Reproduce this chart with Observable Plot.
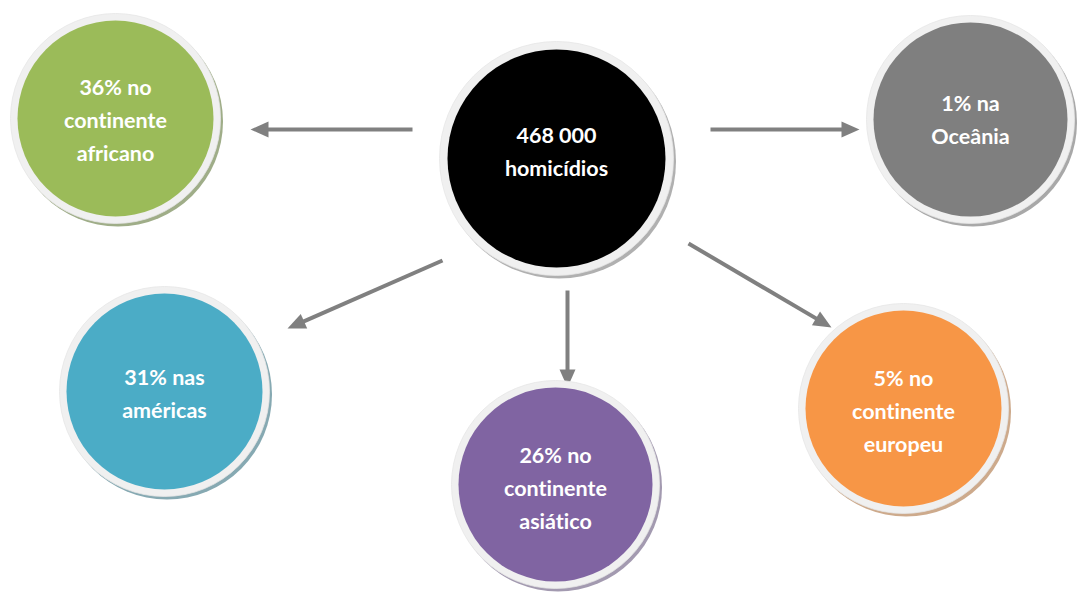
<!DOCTYPE html>
<html>
<head>
<meta charset="utf-8">
<script src="https://cdn.jsdelivr.net/npm/d3@7"></script>
<script src="https://cdn.jsdelivr.net/npm/@observablehq/plot@0.6"></script>
<style>
  html, body { margin: 0; padding: 0; background: #ffffff; }
  #chart svg { display: block; font-variant-ligatures: none; }
</style>
</head>
<body>
<div id="chart"></div>
<script>
// ---- data ----
const totalValue = "468 000";
const totalLabel = "homicídios";
const regions = ["africa", "americas", "asia", "europa", "oceania"];
const shares = [36, 31, 26, 5, 1];
const labels = [
  "36% no\ncontinente\nafricano",
  "31% nas\namericas".replace("americas", "américas"),
  "26% no\ncontinente\nasiático",
  "5% no\ncontinente\neuropeu",
  "1% na\nOceânia"
];

// ---- styling / layout (not data) ----
const W = 1079, H = 597;
const fills = ["#9BBB59", "#4BACC6", "#8064A2", "#F79646", "#7F7F7F"];
const shadows = ["#9FAD88", "#86A9B2", "#A39AB0", "#CDAA8C", "#A8A8A8"];
const nodeX = [115, 164, 555, 903, 970];
const nodeY = [118, 391, 484, 408, 119];
const textY = [117, 390, 485, 408, 116];
const outerR = [105, 105, 104, 105, 104];
const innerR = [98, 98, 97, 98, 97];
const hub = {x: 556, y: 158, ty: 148, outer: 117, inner: 109};
// arrow start / tip per region
const arrowX1 = [412, 442, 567, 688, 710];
const arrowY1 = [129, 260, 290, 243, 129];
const arrowX2 = [250, 287, 567, 831, 859];
const arrowY2 = [129, 328, 387, 327, 129];

const nodes = regions.map((r, i) => ({
  region: r, share: shares[i], label: labels[i],
  x: nodeX[i], y: nodeY[i], ty: textY[i],
  outer: outerR[i], inner: innerR[i], fill: fills[i], shadow: shadows[i]
}));
const hubNode = {region: "total", label: totalValue + "\n" + totalLabel,
  x: hub.x, y: hub.y, ty: hub.ty, outer: hub.outer, inner: hub.inner, fill: "#000000", shadow: "#B0B0B0"};
const allNodes = [hubNode, ...nodes];

const arrows = regions.map((r, i) => ({region: r, x1: arrowX1[i], y1: arrowY1[i], x2: arrowX2[i], y2: arrowY2[i]}));
// arrowheads as filled triangles
const headLen = 18, headHalf = 8;
const heads = [];
const shafts = [];
arrows.forEach(a => {
  const dx = a.x2 - a.x1, dy = a.y2 - a.y1;
  const L = Math.hypot(dx, dy);
  const ux = dx / L, uy = dy / L;
  const bx = a.x2 - ux * headLen, by = a.y2 - uy * headLen;
  shafts.push({region: a.region, x1: a.x1, y1: a.y1, x2: bx + ux * 2, y2: by + uy * 2});
  heads.push({region: a.region, x: a.x2, y: a.y2});
  heads.push({region: a.region, x: bx - uy * headHalf, y: by + ux * headHalf});
  heads.push({region: a.region, x: bx + uy * headHalf, y: by - ux * headHalf});
});

const chart = Plot.plot({
  width: W,
  height: H,
  margin: 0,
  x: {domain: [0, W], range: [0, W], axis: null},
  y: {domain: [0, H], range: [0, H], axis: null},
  r: {type: "identity"},
  style: {background: "#ffffff", fontFamily: "Lato, 'Open Sans', sans-serif"},
  marks: [
    Plot.link(shafts, {x1: "x1", y1: "y1", x2: "x2", y2: "y2", stroke: "#808080", strokeWidth: 4}),
    Plot.line(heads, {x: "x", y: "y", z: "region", fill: "#808080", stroke: "none"}),
    Plot.dot(allNodes, {x: "x", y: "y", r: "outer", fill: "shadow", dx: 2.5, dy: 3, stroke: "none"}),
    Plot.dot(allNodes, {x: "x", y: "y", r: "outer", fill: "#F0F0F0", stroke: "#E6E6E6", strokeWidth: 0.8}),
    Plot.dot(allNodes, {x: "x", y: "y", r: "inner", fill: "fill", stroke: "none"}),
    Plot.text(allNodes, {x: "x", y: "ty", text: "label", fill: "#ffffff", fontSize: 21.5,
      fontWeight: "bold", lineHeight: 1.55, lineAnchor: "middle", textAnchor: "middle"})
  ]
});
document.getElementById("chart").appendChild(chart);
</script>
</body>
</html>
